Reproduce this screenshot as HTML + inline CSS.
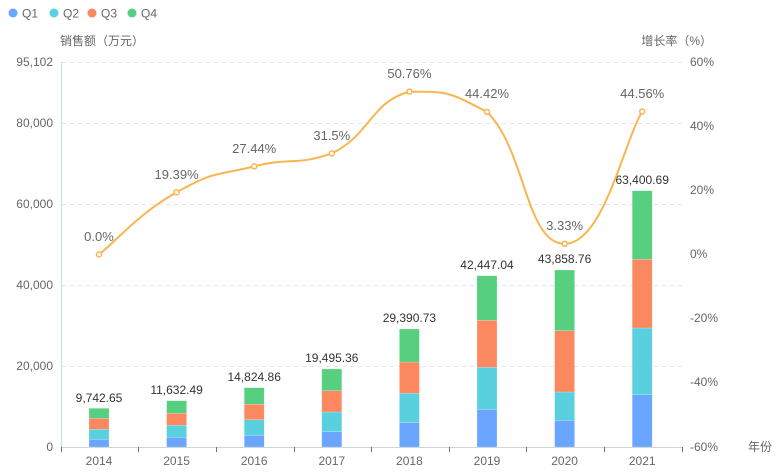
<!DOCTYPE html>
<html><head><meta charset="utf-8"><style>
html,body{margin:0;padding:0;background:#fff;}
svg{display:block;font-family:"Liberation Sans","Noto Sans CJK SC",sans-serif;}
</style></head><body>
<svg width="777" height="475" xmlns="http://www.w3.org/2000/svg">
<!-- legend -->
<g font-size="12" fill="#666">
<circle cx="13" cy="13" r="4.5" fill="#6aa5ff"/><text x="22" y="17.5">Q1</text>
<circle cx="54" cy="13" r="4.5" fill="#58d0de"/><text x="63" y="17.5">Q2</text>
<circle cx="92" cy="13" r="4.5" fill="#fc8860"/><text x="101" y="17.5">Q3</text>
<circle cx="132" cy="13" r="4.5" fill="#56cf7f"/><text x="141" y="17.5">Q4</text>
</g>
<text x="60" y="45" font-size="12" fill="#666">销售额（万元）</text>
<text x="712" y="45" font-size="12" fill="#666" text-anchor="end">增长率（%）</text>
<!-- grid -->
<g stroke="#e0e6f1" stroke-dasharray="4,4" stroke-width="1">
<line x1="62" x2="682" y1="62.5" y2="62.5"/>
<line x1="62" x2="682" y1="123.5" y2="123.5"/>
<line x1="62" x2="682" y1="204.5" y2="204.5"/>
<line x1="62" x2="682" y1="285.5" y2="285.5"/>
<line x1="62" x2="682" y1="366.5" y2="366.5"/>
</g>
<line x1="61.5" x2="61.5" y1="62" y2="447" stroke="#ccdde0"/>
<line x1="61" x2="683" y1="447.5" y2="447.5" stroke="#ccd6d9"/>
<g stroke="#6e7079">
<line x1="61.5" x2="61.5" y1="447" y2="452"/><line x1="138.5" x2="138.5" y1="447" y2="452"/><line x1="216.5" x2="216.5" y1="447" y2="452"/><line x1="294.5" x2="294.5" y1="447" y2="452"/><line x1="371.5" x2="371.5" y1="447" y2="452"/><line x1="449.5" x2="449.5" y1="447" y2="452"/><line x1="526.5" x2="526.5" y1="447" y2="452"/><line x1="604.5" x2="604.5" y1="447" y2="452"/><line x1="682.5" x2="682.5" y1="447" y2="452"/>
</g>
<!-- left labels -->
<g font-size="12" fill="#666" text-anchor="end">
<text x="53" y="66">95,102</text><text x="53" y="127">80,000</text><text x="53" y="208">60,000</text><text x="53" y="289">40,000</text><text x="53" y="370">20,000</text><text x="53" y="451">0</text>
</g>
<g font-size="12" fill="#666">
<text x="690" y="66">60%</text><text x="690" y="130">40%</text><text x="690" y="194">20%</text><text x="690" y="258">0%</text><text x="690" y="322">-20%</text><text x="690" y="386">-40%</text><text x="690" y="451">-60%</text>
<text x="748" y="451">年份</text>
</g>
<g font-size="12" fill="#666" text-anchor="middle">
<text x="99" y="465">2014</text><text x="176.6" y="465">2015</text><text x="254.2" y="465">2016</text><text x="331.8" y="465">2017</text><text x="409.4" y="465">2018</text><text x="487" y="465">2019</text><text x="564.6" y="465">2020</text><text x="642.2" y="465">2021</text>
</g>
<!-- bars -->
<g stroke="#fff" stroke-opacity="0.4" stroke-width="0.5">
<rect x="89" y="439.3" width="20" height="7.7" fill="#6aa5ff"/><rect x="89" y="429.3" width="20" height="10" fill="#58d0de"/><rect x="89" y="418.3" width="20" height="11" fill="#fc8860"/><rect x="89" y="408.3" width="20" height="10" fill="#56cf7f"/>
<rect x="166.6" y="437.3" width="20" height="9.7" fill="#6aa5ff"/><rect x="166.6" y="425.3" width="20" height="12" fill="#58d0de"/><rect x="166.6" y="413.3" width="20" height="12" fill="#fc8860"/><rect x="166.6" y="400.7" width="20" height="12.6" fill="#56cf7f"/>
<rect x="244.2" y="435.3" width="20" height="11.7" fill="#6aa5ff"/><rect x="244.2" y="419.7" width="20" height="15.6" fill="#58d0de"/><rect x="244.2" y="404.3" width="20" height="15.4" fill="#fc8860"/><rect x="244.2" y="387.7" width="20" height="16.6" fill="#56cf7f"/>
<rect x="321.8" y="431.7" width="20" height="15.3" fill="#6aa5ff"/><rect x="321.8" y="412" width="20" height="19.7" fill="#58d0de"/><rect x="321.8" y="390.7" width="20" height="21.3" fill="#fc8860"/><rect x="321.8" y="369" width="20" height="21.7" fill="#56cf7f"/>
<rect x="399.4" y="422.7" width="20" height="24.3" fill="#6aa5ff"/><rect x="399.4" y="393.3" width="20" height="29.4" fill="#58d0de"/><rect x="399.4" y="362" width="20" height="31.3" fill="#fc8860"/><rect x="399.4" y="329" width="20" height="33" fill="#56cf7f"/>
<rect x="477" y="409.3" width="20" height="37.7" fill="#6aa5ff"/><rect x="477" y="367.3" width="20" height="42" fill="#58d0de"/><rect x="477" y="320.3" width="20" height="47" fill="#fc8860"/><rect x="477" y="275.7" width="20" height="44.6" fill="#56cf7f"/>
<rect x="554.6" y="420.3" width="20" height="26.7" fill="#6aa5ff"/><rect x="554.6" y="392" width="20" height="28.3" fill="#58d0de"/><rect x="554.6" y="330.7" width="20" height="61.3" fill="#fc8860"/><rect x="554.6" y="270" width="20" height="60.7" fill="#56cf7f"/>
<rect x="632.2" y="394.7" width="20" height="52.3" fill="#6aa5ff"/><rect x="632.2" y="328" width="20" height="66.7" fill="#58d0de"/><rect x="632.2" y="259.3" width="20" height="68.7" fill="#fc8860"/><rect x="632.2" y="190.7" width="20" height="68.6" fill="#56cf7f"/>
</g>
<g font-size="12" fill="#333" text-anchor="middle">
<text x="99" y="402">9,742.65</text><text x="176.6" y="394">11,632.49</text><text x="254.2" y="381">14,824.86</text><text x="331.8" y="362">19,495.36</text><text x="409.4" y="322">29,390.73</text><text x="487" y="269">42,447.04</text><text x="564.6" y="263">43,858.76</text><text x="642.2" y="184">63,400.69</text>
</g>
<!-- line -->
<path fill="none" stroke="#fbb54f" stroke-width="2" d="M99,254.5 C118.4,239 137.8,214.3 176.6,192.3 C215.4,170.3 215.4,176.1 254.2,166.4 C293,156.7 293,166.4 331.8,153.4 C370.6,134.7 370.6,102 409.4,91.6 C448.2,91.6 448.2,91.6 487,111.9 C525.8,149.9 525.8,243.8 564.6,243.8 C603.4,243.7 622.8,144.6 642.2,111.5"/>
<g fill="#fff" stroke="#fbb54f" stroke-width="1.5">
<circle cx="99" cy="254.5" r="2.5"/><circle cx="176.6" cy="192.3" r="2.5"/><circle cx="254.2" cy="166.4" r="2.5"/><circle cx="331.8" cy="153.4" r="2.5"/><circle cx="409.4" cy="91.6" r="2.5"/><circle cx="487" cy="111.9" r="2.5"/><circle cx="564.6" cy="243.8" r="2.5"/><circle cx="642.2" cy="111.5" r="2.5"/>
</g>
<g font-size="13" fill="#666" text-anchor="middle">
<text x="99" y="241">0.0%</text><text x="176.6" y="179">19.39%</text><text x="254.2" y="153">27.44%</text><text x="331.8" y="140">31.5%</text><text x="409.4" y="78">50.76%</text><text x="487" y="98">44.42%</text><text x="564.6" y="230">3.33%</text><text x="642.2" y="98">44.56%</text>
</g>
</svg>
</body></html>
